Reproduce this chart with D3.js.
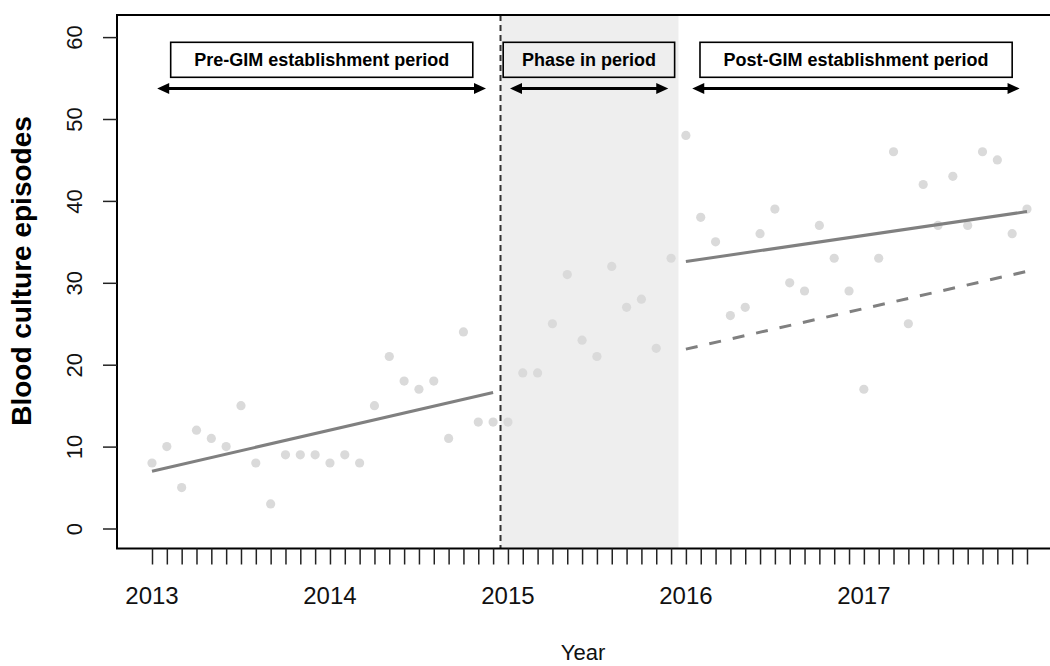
<!DOCTYPE html>
<html>
<head>
<meta charset="utf-8">
<script src="https://cdn.jsdelivr.net/npm/d3@7"></script>
<style>
  html, body { margin: 0; padding: 0; background: #ffffff; }
  svg { display: block; }
  text { font-family: "Liberation Sans", Arial, sans-serif; }
</style>
</head>
<body>
<svg id="chart" width="1050" height="666"></svg>
<script>
// ---- Data (monthly, Jan 2013 .. Dec 2017) ----
const yearLabels = ["2013", "2014", "2015", "2016", "2017"];
const yearTickIndex = [0, 12, 24, 36, 48];
const counts = [
  8, 10, 5, 12, 11, 10, 15, 8, 3, 9, 9, 9,
  8, 9, 8, 15, 21, 18, 17, 18, 11, 24, 13, 13,
  13, 19, 19, 25, 31, 23, 21, 32, 27, 28, 22, 33,
  48, 38, 35, 26, 27, 36, 39, 30, 29, 37, 33, 29,
  17, 33, 46, 25, 42, 37, 43, 37, 46, 45, 36, 39
];
const yTicks = [0, 10, 20, 30, 40, 50, 60];
// fitted lines: [start month, end month], [start value, end value]
const preFitMonths = [0, 23];
const preFitValues = [7.0, 16.6];
const postFitMonths = [36, 59];
const postFitValues = [32.6, 38.7];
const counterfactualValues = [21.9, 31.4];
const periodLabels = ["Pre-GIM establishment period", "Phase in period", "Post-GIM establishment period"];
const phaseStart = 23.5, phaseEnd = 35.5;

// ---- Layout ----
const svg = d3.select("#chart");
const plot = { left: 117, right: 1052, top: 15, bottom: 548.5 };
const x = d3.scaleLinear().domain([0, 59]).range([152, 1027]);
const y = d3.scaleLinear().domain([0, 60]).range([528.5, 37.1]);

// shaded phase-in region
svg.append("rect")
  .attr("x", x(phaseStart)).attr("y", plot.top)
  .attr("width", x(phaseEnd) - x(phaseStart)).attr("height", plot.bottom - plot.top)
  .attr("fill", "#eeeeee");

// vertical dashed line
svg.append("line")
  .attr("x1", x(phaseStart)).attr("x2", x(phaseStart))
  .attr("y1", plot.top).attr("y2", plot.bottom)
  .attr("stroke", "#333").attr("stroke-width", 2)
  .attr("stroke-dasharray", "6,4");

// points
svg.append("g").selectAll("circle").data(counts).join("circle")
  .attr("cx", (d, i) => x(i)).attr("cy", d => y(d)).attr("r", 4.6)
  .attr("fill", "#dadada");

// fitted lines
function fitLine(months, values, dash) {
  svg.append("line")
    .attr("x1", x(months[0])).attr("y1", y(values[0]))
    .attr("x2", x(months[1])).attr("y2", y(values[1]))
    .attr("stroke", "#808080").attr("stroke-width", 3)
    .attr("stroke-dasharray", dash || null);
}
fitLine(preFitMonths, preFitValues);
fitLine(postFitMonths, postFitValues);
fitLine(postFitMonths, counterfactualValues, "12,12");

// period labels + arrows
const boxes = [
  { label: periodLabels[0], x0: 1.26, x1: 21.63, a0: 0.35, a1: 22.52, fill: "#ffffff" },
  { label: periodLabels[1], x0: 23.68, x1: 35.24, a0: 24.14, a1: 34.81, fill: "#eeeeee" },
  { label: periodLabels[2], x0: 36.95, x1: 58.0, a0: 36.43, a1: 58.5, fill: "#ffffff" }
];
const boxTop = 42.3, boxBottom = 77.3, arrowY = 88.5;
const lab = svg.append("g");
boxes.forEach(b => {
  lab.append("rect")
    .attr("x", x(b.x0)).attr("y", boxTop)
    .attr("width", x(b.x1) - x(b.x0)).attr("height", boxBottom - boxTop)
    .attr("fill", b.fill).attr("stroke", "#000").attr("stroke-width", 1.6);
  lab.append("text")
    .attr("x", (x(b.x0) + x(b.x1)) / 2).attr("y", (boxTop + boxBottom) / 2)
    .attr("dy", "0.36em").attr("text-anchor", "middle")
    .attr("font-size", 18).attr("font-weight", "bold").attr("fill", "#000")
    .text(b.label);
  const xa = x(b.a0), xb = x(b.a1), hl = 12, hw = 5.5;
  lab.append("line")
    .attr("x1", xa + 4).attr("x2", xb - 4)
    .attr("y1", arrowY).attr("y2", arrowY)
    .attr("stroke", "#000").attr("stroke-width", 3);
  lab.append("path")
    .attr("d", `M${xa},${arrowY} L${xa + hl},${arrowY - hw} L${xa + hl},${arrowY + hw} Z`)
    .attr("fill", "#000");
  lab.append("path")
    .attr("d", `M${xb},${arrowY} L${xb - hl},${arrowY - hw} L${xb - hl},${arrowY + hw} Z`)
    .attr("fill", "#000");
});

// plot box (left, top, bottom)
svg.append("path")
  .attr("d", `M${plot.right},${plot.top} L${plot.left},${plot.top} L${plot.left},${plot.bottom} L${plot.right},${plot.bottom}`)
  .attr("fill", "none").attr("stroke", "#000").attr("stroke-width", 2);

// y axis
const yAxis = d3.axisLeft(y).tickValues(yTicks).tickSize(14).tickPadding(0).tickFormat(d3.format("d"));
const gy = svg.append("g").attr("transform", `translate(${plot.left},0)`).call(yAxis);
gy.select(".domain").remove();
gy.selectAll(".tick line").attr("stroke", "#222").attr("stroke-width", 1.5);
gy.selectAll(".tick text")
  .attr("x", 0).attr("y", 0).attr("dy", 0)
  .attr("text-anchor", "middle")
  .attr("transform", "translate(-35,0) rotate(-90)")
  .attr("font-size", 22).attr("fill", "#111")
  .attr("font-family", "Liberation Sans, Arial, sans-serif");

// x axis: monthly ticks, year labels
const xAxis = d3.axisBottom(x).tickValues(d3.range(counts.length)).tickSize(16).tickFormat("");
const gx = svg.append("g").attr("transform", `translate(0,${plot.bottom})`).call(xAxis);
gx.select(".domain").remove();
gx.selectAll(".tick line").attr("stroke", "#222").attr("stroke-width", 1.5);
svg.append("g").selectAll("text").data(yearLabels).join("text")
  .attr("x", (d, i) => x(yearTickIndex[i])).attr("y", 604)
  .attr("text-anchor", "middle").attr("font-size", 24).attr("fill", "#111")
  .text(d => d);

// axis titles
svg.append("text")
  .attr("x", 583).attr("y", 660).attr("text-anchor", "middle")
  .attr("font-size", 22).attr("fill", "#111").text("Year");
svg.append("text")
  .attr("transform", "translate(31,271) rotate(-90)")
  .attr("text-anchor", "middle").attr("font-size", 28).attr("font-weight", "bold")
  .attr("fill", "#000").text("Blood culture episodes");
</script>
</body>
</html>
